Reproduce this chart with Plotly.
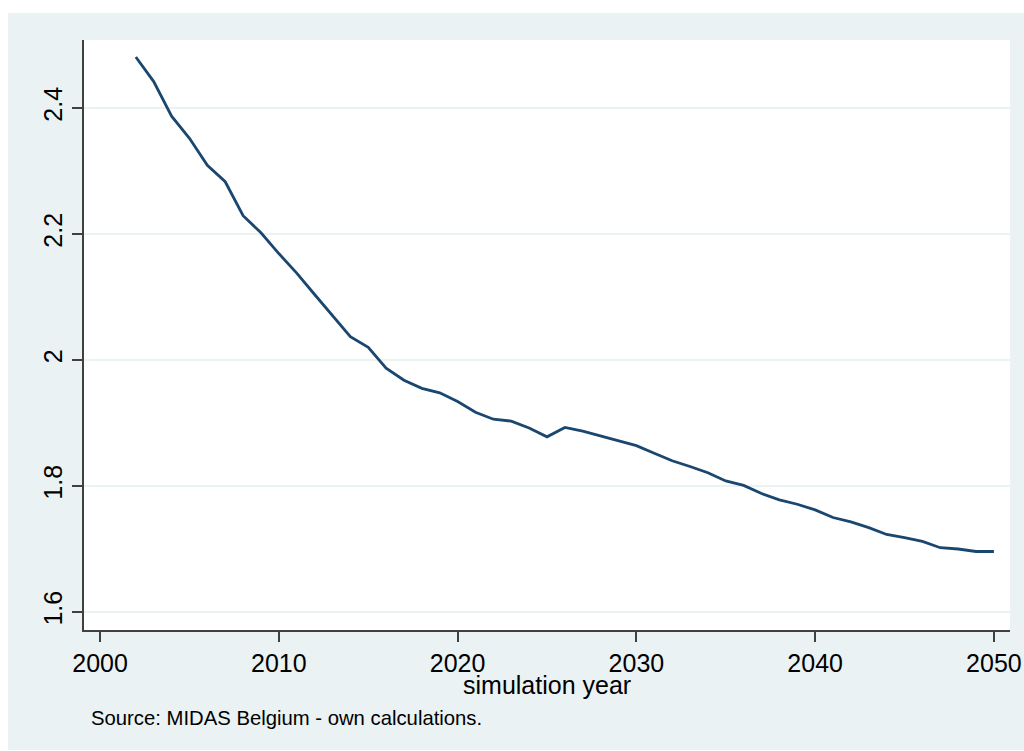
import plotly.graph_objects as go

# Simulated series, one value per year
years = list(range(2002, 2051))
values = [
    2.481, 2.442, 2.387, 2.352, 2.309, 2.283, 2.229, 2.202, 2.169, 2.138,
    2.104, 2.071, 2.037, 2.020, 1.987, 1.968, 1.955, 1.948, 1.934, 1.917,
    1.906, 1.903, 1.892, 1.878, 1.893, 1.887, 1.879, 1.872, 1.864, 1.852,
    1.840, 1.831, 1.821, 1.808, 1.801, 1.788, 1.778, 1.771, 1.762, 1.750,
    1.743, 1.734, 1.723, 1.718, 1.712, 1.702, 1.700, 1.696, 1.696,
]

x_ticks = [2000, 2010, 2020, 2030, 2040, 2050]
y_ticks = [1.6, 1.8, 2.0, 2.2, 2.4]
y_tick_labels = ["1.6", "1.8", "2", "2.2", "2.4"]

BG = "#EAF2F3"
LINE = "#1A476F"
AXIS = "#404040"
FONT = "Liberation Sans, Arial, sans-serif"

fig = go.Figure()
fig.add_trace(go.Scatter(
    x=years, y=values, mode="lines",
    line=dict(color=LINE, width=2.8),
    showlegend=False, hoverinfo="x+y",
))

fig.update_layout(
    width=1024, height=751,
    margin=dict(l=84, r=14, t=40, b=121, pad=0),
    paper_bgcolor="white",
    plot_bgcolor="white",
    font=dict(family=FONT, color="black"),
    shapes=[
        # graph region
        dict(type="rect", xref="paper", yref="paper", layer="below",
             x0=-0.0821, x1=1.02, y0=-0.2034, y1=1.0458,
             fillcolor=BG, line=dict(width=0)),
        # plot region
        dict(type="rect", xref="paper", yref="paper", layer="below",
             x0=0, x1=1, y0=0, y1=1,
             fillcolor="white", line=dict(width=0)),
    ],
    annotations=[
        # x-axis title
        dict(text="simulation year",
             xref="paper", yref="paper", x=0.5, y=-0.0932,
             xanchor="center", yanchor="middle", showarrow=False,
             font=dict(size=25, family=FONT, color="black")),
        # note
        dict(text="Source: MIDAS Belgium - own calculations.",
             xref="paper", yref="paper", x=0.0054, y=-0.149,
             xanchor="left", yanchor="middle", showarrow=False,
             font=dict(size=20.3, family=FONT, color="black")),
    ],
)

fig.update_xaxes(
    range=[1999.1, 2050.9],
    tickvals=x_ticks,
    automargin=False,
    ticks="outside", ticklen=10, tickwidth=1.5, tickcolor=AXIS,
    tickfont=dict(size=25, family=FONT, color="black"),
    showline=True, linecolor=AXIS, linewidth=1.5,
    showgrid=False, zeroline=False,
)

fig.update_yaxes(
    range=[1.5714, 2.508],
    tickvals=y_ticks, ticktext=y_tick_labels,
    automargin=False,
    tickangle=-90,
    ticks="outside", ticklen=10, tickwidth=1.5, tickcolor=AXIS,
    tickfont=dict(size=25, family=FONT, color="black"),
    showline=True, linecolor=AXIS, linewidth=1.5,
    showgrid=True, gridcolor=BG, gridwidth=2,
    zeroline=False,
)

fig.write_html("out.html")
